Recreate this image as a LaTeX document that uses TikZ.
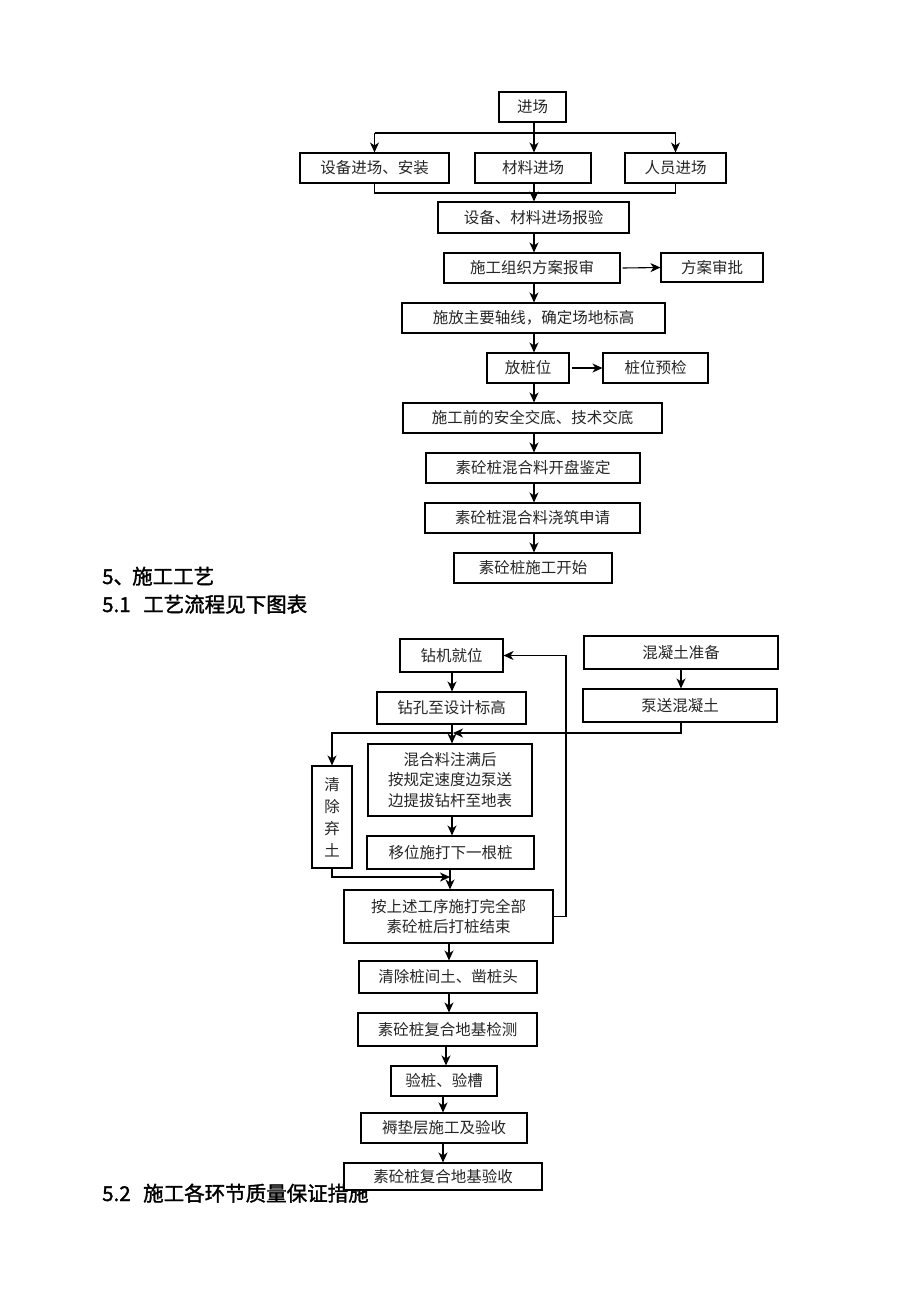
\documentclass[tikz,border=0pt]{standalone}
\usepackage{fontspec}
\newfontfamily\cjk{Noto Sans CJK SC}
\newfontfamily\cjkh{Noto Sans CJK SC}[FakeBold=1.6]
\usetikzlibrary{arrows.meta}
\tikzset{
  box/.style={draw, line width=1.1pt, fill=white, inner sep=0pt, align=center,
    font=\cjk\fontsize{15.5}{20.5}\selectfont, text=black!85},
  arr/.style={-{Stealth[length=10pt,width=9pt,inset=3pt]}, line width=1.1pt},
  ln/.style={line width=1.1pt},
  head/.style={anchor=base west, inner sep=0pt, font=\cjkh\fontsize{20.5}{24}\selectfont}
}
\begin{document}
\begin{tikzpicture}[x=1pt,y=-1pt]
\useasboundingbox[fill=white] (0,0) rectangle (920,1302);
% headings
\node[head] (h5) at (102,584) {\makebox[30pt][l]{5、}施工工艺};
\node[head] (h51) at (102,612) {\makebox[41pt][l]{5.1}工艺流程见下图表};
\node[head] (h52) at (102,1201) {\makebox[41pt][l]{5.2}施工各环节质量保证措施};
% top chart
\node[box, minimum width=67, minimum height=30] (jc) at (532.5,107) {进场};
\node[box, minimum width=149, minimum height=30] (sb) at (374.5,168) {设备进场、安装};
\node[box, minimum width=116, minimum height=30] (cl) at (533,168) {材料进场};
\node[box, minimum width=101, minimum height=30] (ry) at (675.5,168) {人员进场};
\node[box, minimum width=191, minimum height=31] (bj) at (533.5,217.5) {设备、材料进场报验};
\node[box, minimum width=176, minimum height=30] (bs) at (532,268) {施工组织方案报审};
\node[box, minimum width=102, minimum height=29] (sp) at (712,267.5) {方案审批};
\node[box, minimum width=263, minimum height=30] (zx) at (533.5,318) {施放主要轴线，确定场地标高};
\node[box, minimum width=82, minimum height=30] (fz) at (528,368) {放桩位};
\node[box, minimum width=105, minimum height=30] (yj) at (655.5,368) {桩位预检};
\node[box, minimum width=259, minimum height=30] (jd) at (532.5,418) {施工前的安全交底、技术交底};
\node[box, minimum width=214, minimum height=30] (kp) at (533,468) {素砼桩混合料开盘鉴定};
\node[box, minimum width=215, minimum height=30] (sq) at (532.5,518) {素砼桩混合料浇筑申请};
\node[box, minimum width=158, minimum height=30] (ks) at (533,568) {素砼桩施工开始};
\coordinate (cxA) at (534,0);
\coordinate (t1) at (534,133);
\coordinate (t2) at (534,193);
\draw[ln] (jc.south -| t1) -- (t1);
\draw[arr] (t1) -- (cl.north -| t1);
\draw[ln] (sb.north |- t1) -- (ry.north |- t1);
\draw[arr] (sb.north |- t1) -- (sb.north);
\draw[arr] (ry.north |- t1) -- (ry.north);
\draw[ln] (sb.south) -- (sb.south |- t2) -- (ry.south |- t2) -- (ry.south);
\draw[arr] (cl.south -| t2) -- (bj.north -| t2);
\draw[arr] (bj.south -| cxA) -- (bs.north -| cxA);
\draw[arr] ([xshift=2pt]bs.east) -- (sp.west);
\draw[arr] (bs.south -| cxA) -- (zx.north -| cxA);
\draw[arr] (zx.south -| cxA) -- (fz.north -| cxA);
\draw[arr] ([xshift=2pt]fz.east) -- (yj.west);
\draw[arr] (fz.south -| cxA) -- (jd.north -| cxA);
\draw[arr] (jd.south -| cxA) -- (kp.north -| cxA);
\draw[arr] (kp.south -| cxA) -- (sq.north -| cxA);
\draw[arr] (sq.south -| cxA) -- (ks.north -| cxA);
% bottom chart
\node[box, minimum width=103, minimum height=33] (zj) at (451.5,655.5) {钻机就位};
\node[box, minimum width=149, minimum height=32] (zk) at (451.5,708) {钻孔至设计标高};
\node[box, minimum width=194, minimum height=33] (hn) at (681,652.5) {混凝土准备};
\node[box, minimum width=194, minimum height=33] (bs2) at (680,705.5) {泵送混凝土};
\node[box, minimum width=164, minimum height=72] (hl) at (450,780) {混合料注满后\\按规定速度边泵送\\边提拔钻杆至地表};
\node[box, minimum width=40, minimum height=102, font=\cjk\fontsize{15.5}{22}\selectfont] (qc) at (332,817) {清\\除\\弃\\土};
\node[box, minimum width=167, minimum height=33] (yw) at (450.5,852.5) {移位施打下一根桩};
\node[box, minimum width=209, minimum height=53] (as) at (448.5,916.5) {按上述工序施打完全部\\素砼桩后打桩结束};
\node[box, minimum width=178, minimum height=32] (qz) at (448,977) {清除桩间土、凿桩头};
\node[box, minimum width=179, minimum height=33] (jc2) at (447.5,1029.5) {素砼桩复合地基检测};
\node[box, minimum width=106, minimum height=30] (yz) at (444,1081) {验桩、验槽};
\node[box, minimum width=166, minimum height=30] (rd) at (444,1128) {褥垫层施工及验收};
\node[box, minimum width=198, minimum height=27] (ys) at (443,1176.5) {素砼桩复合地基验收};
\coordinate (m1) at (452,733);
\coordinate (m2) at (450,877);
\coordinate (l1) at (566,917);
\coordinate (cxC) at (449,0);
\coordinate (cxD) at (446,0);
\coordinate (cxE) at (443,0);
\draw[arr] (zj.south -| m1) -- (zk.north -| m1);
\draw[arr] (hn.south) -- (hn.south |- bs2.north);
\draw[arr] (hn.south |- bs2.south) -- (hn.south |- m1) -- ([xshift=1pt]m1);
\draw[arr] (zk.south -| m1) -- (hl.north -| m1);
\draw[arr] (m1) -- (m1 -| qc.north) -- (qc.north);
\draw[arr] (hl.south -| m1) -- (yw.north -| m1);
\draw[arr] (qc.south) -- (qc.south |- m2) -- (m2);
\draw[arr] (yw.south -| m2) -- (as.north -| m2);
\draw[arr] (as.east) -- (as.east -| l1) -- (l1 |- zj.east) -- (zj.east);
\draw[arr] (as.south -| cxC) -- (qz.north -| cxC);
\draw[arr] (qz.south -| cxC) -- (jc2.north -| cxC);
\draw[arr] (jc2.south -| cxD) -- (yz.north -| cxD);
\draw[arr] (yz.south -| cxE) -- (rd.north -| cxE);
\draw[arr] (rd.south -| cxE) -- (ys.north -| cxE);
\end{tikzpicture}
\end{document}
